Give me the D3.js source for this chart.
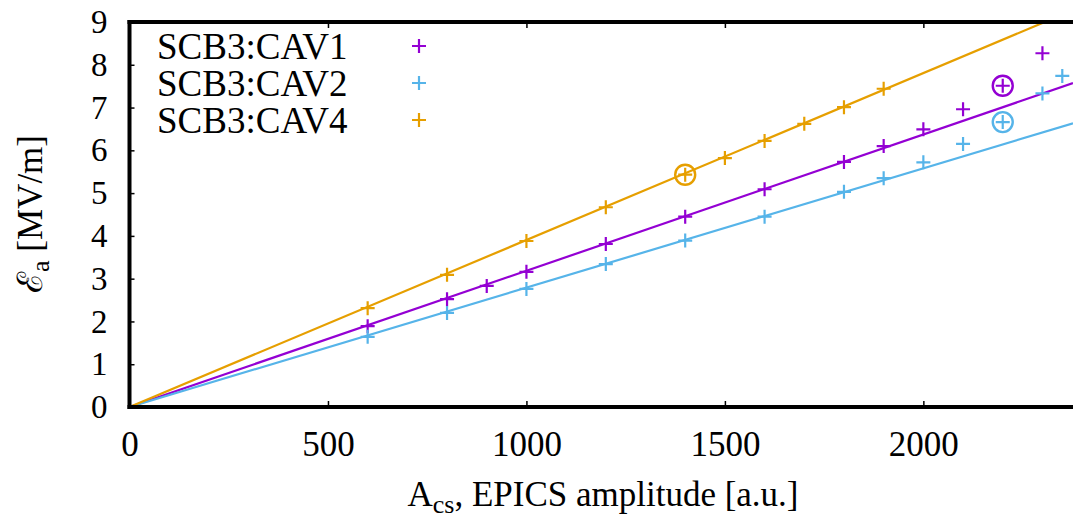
<!DOCTYPE html>
<html><head><meta charset="utf-8">
<script src="https://cdn.jsdelivr.net/npm/d3@7"></script>
<style>
body{margin:0;background:#fff;}
</style></head>
<body><svg id="c" width="1073" height="518"></svg>
<script>
// Data
const seriesNames = ["SCB3:CAV1", "SCB3:CAV2", "SCB3:CAV4"];
const seriesColors = ["#9400d3", "#56b4e9", "#e69f00"];
const cav1X = [600, 800, 900, 1000, 1200, 1400, 1600, 1800, 1900, 2000, 2100, 2200, 2300];
const cav1Y = [1.89, 2.52, 2.83, 3.16, 3.81, 4.45, 5.09, 5.73, 6.10, 6.49, 6.96, 7.51, 8.27];
const cav2X = [600, 800, 1000, 1200, 1400, 1600, 1800, 1900, 2000, 2100, 2200, 2300, 2350];
const cav2Y = [1.64, 2.20, 2.76, 3.34, 3.89, 4.45, 5.03, 5.35, 5.72, 6.15, 6.66, 7.33, 7.74];
const cav4X = [600, 800, 1000, 1200, 1400, 1500, 1600, 1700, 1800, 1900];
const cav4Y = [2.31, 3.09, 3.88, 4.67, 5.43, 5.82, 6.22, 6.62, 7.01, 7.44];
const fitSlopes = [0.003185, 0.00279, 0.003903];
const circledX = [2200, 2200, 1400];
const circledY = [7.51, 6.66, 5.43];
const xTicks = [0, 500, 1000, 1500, 2000];
const yTicks = [0, 1, 2, 3, 4, 5, 6, 7, 8, 9];

const FONT = '"Liberation Serif", "Times New Roman", Times, serif';
const svg = d3.select("#c");
const L = 129.5, R = 1073, T = 22, B = 407;
const x = d3.scaleLinear().domain([0, 2377]).range([L, R]);
const y = d3.scaleLinear().domain([0, 9]).range([B, T]);

svg.append("clipPath").attr("id","clip").append("rect")
  .attr("x", L).attr("y", T).attr("width", R - L).attr("height", B - T);

const series = [[cav1X, cav1Y], [cav2X, cav2Y], [cav4X, cav4Y]];

// fit lines
const g = svg.append("g").attr("clip-path", "url(#clip)");
fitSlopes.forEach((s, i) => {
  const pts = [[0, 0], [2377, s * 2377]];
  g.append("path")
    .attr("d", d3.line().x(d => x(d[0])).y(d => y(d[1]))(pts))
    .attr("fill", "none").attr("stroke", seriesColors[i]).attr("stroke-width", 2.2);
});

// points
function plus(sel, cx, cy, color) {
  const h = 7;
  sel.append("path")
    .attr("d", `M${cx - h},${cy}H${cx + h}M${cx},${cy - h}V${cy + h}`)
    .attr("stroke", color).attr("stroke-width", 2.2).attr("fill", "none");
}
series.forEach((s, i) => {
  s[0].forEach((xv, j) => plus(g, x(xv), y(s[1][j]), seriesColors[i]));
});
circledX.forEach((xv, i) => {
  g.append("circle").attr("cx", x(xv)).attr("cy", y(circledY[i])).attr("r", 10)
    .attr("fill", "none").attr("stroke", seriesColors[i]).attr("stroke-width", 2.4);
});

// axes
const xAxisB = d3.axisBottom(x).tickValues(xTicks).tickSize(-6).tickPadding(24).tickFormat(d3.format("d"));
const gxb = svg.append("g").attr("transform", `translate(0,${B})`).call(xAxisB);
gxb.select(".domain").remove();
gxb.selectAll("line").attr("stroke", "#000").attr("stroke-width", 1.5);
gxb.selectAll("text").attr("font-size", 35).style("font-family", FONT).attr("fill", "#000");

const xAxisT = d3.axisTop(x).tickValues(xTicks).tickSize(-6).tickFormat("");
const gxt = svg.append("g").attr("transform", `translate(0,${T})`).call(xAxisT);
gxt.select(".domain").remove();
gxt.selectAll("line").attr("stroke", "#000").attr("stroke-width", 1.5);

const yAxis = d3.axisLeft(y).tickValues(yTicks).tickSize(-5).tickPadding(22).tickFormat(d3.format("d"));
const gy = svg.append("g").attr("transform", `translate(${L},0)`).call(yAxis);
gy.select(".domain").remove();
gy.selectAll("line").attr("stroke", "#000").attr("stroke-width", 1.5);
gy.selectAll("text").attr("font-size", 33).style("font-family", FONT).attr("fill", "#000");

// frame lines
svg.append("line").attr("x1", L).attr("x2", L).attr("y1", T - 2).attr("y2", B + 2).attr("stroke", "#000").attr("stroke-width", 4);
svg.append("line").attr("x1", L - 2).attr("x2", R).attr("y1", T).attr("y2", T).attr("stroke", "#000").attr("stroke-width", 4);
svg.append("line").attr("x1", L - 2).attr("x2", R).attr("y1", B).attr("y2", B).attr("stroke", "#000").attr("stroke-width", 4);

// axis labels
const xl = svg.append("text").attr("x", 603).attr("y", 506).attr("text-anchor", "middle")
  .attr("font-size", 35).style("font-family", FONT);
xl.append("tspan").text("A");
xl.append("tspan").attr("font-size", 26).attr("dy", 7).text("cs");
xl.append("tspan").attr("dy", -7).text(", EPICS amplitude [a.u.]");

const yl = svg.append("text").attr("transform", "translate(42,214) rotate(-90)").attr("text-anchor", "middle")
  .attr("font-size", 35).style("font-family", FONT);
yl.append("tspan").text("ℰ");
yl.append("tspan").attr("font-size", 26).attr("dy", 7).text("a");
yl.append("tspan").attr("dy", -7).text(" [MV/m]");

// legend
const legY = [59, 96, 133];
seriesNames.forEach((n, i) => {
  svg.append("text").attr("x", 157).attr("y", legY[i]).attr("font-size", 37)
    .style("font-family", FONT).text(n);
  plus(svg, 419, legY[i] - 13, seriesColors[i]);
});
</script></body></html>
